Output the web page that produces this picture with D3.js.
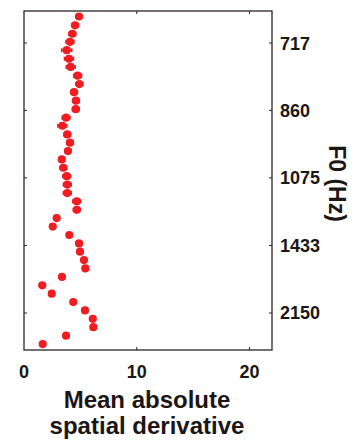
<!DOCTYPE html>
<html>
<head>
<meta charset="utf-8">
<script src="https://cdn.jsdelivr.net/npm/d3@7"></script>
<style>
  body { margin: 0; background: #fff; }
  text { font-family: "Liberation Sans", Arial, sans-serif; font-weight: bold; fill: #1c1616; }
</style>
</head>
<body>
<script>
// F0 of each point (Hz), top to bottom
const f0 = [673, 687, 701, 715, 730, 746, 762, 780, 798, 816,
  836, 857, 879, 901, 926, 951, 978, 1006, 1036, 1068,
  1102, 1139, 1177, 1219, 1263, 1311, 1363, 1419, 1479, 1545,
  1617, 1697, 1784, 1881, 1989, 2110, 2247, 2403, 2583, 2791];

// mean absolute spatial derivative
const meanDeriv = [4.88, 4.53, 4.29, 4.08, 3.79, 3.99, 4.14, 4.76, 4.91, 4.44,
  4.61, 4.59, 3.73, 3.40, 3.84, 4.08, 3.90, 3.35, 3.49, 3.79,
  3.84, 3.84, 4.68, 4.68, 2.90, 2.55, 4.02, 4.88, 4.97, 5.32,
  5.44, 3.37, 1.62, 2.46, 4.37, 5.41, 6.10, 6.15, 3.73, 1.66];

// error (s.e.m.)
const errDeriv = [0.25, 0.30, 0.30, 0.35, 0.45, 0.40, 0.40, 0.35, 0.30, 0.30,
  0.30, 0.30, 0.35, 0.40, 0.30, 0.30, 0.25, 0.25, 0.30, 0.35,
  0.35, 0.35, 0.35, 0.30, 0.15, 0.15, 0.15, 0.25, 0.25, 0.20,
  0.15, 0.10, 0.10, 0.10, 0.10, 0.20, 0.20, 0.15, 0.10, 0.10];

const xTicks = [0, 10, 20];
const yTicks = [717, 860, 1075, 1433, 2150];

const margin = { left: 24, right: 90, top: 11, bottom: 94 },
  W = 362, H = 444,
  width = W - margin.left - margin.right,
  height = H - margin.top - margin.bottom;

const red = "#f01c22", ink = "#2e2424";

// y is linear in period (1/F0), low F0 at top
const x = d3.scaleLinear().domain([0, 22]).range([0, width]);
const y = d3.scaleLinear().domain([1 / 2961, 1 / 664.5]).range([height, 0]);
const yf = f => y(1 / f);

const svg = d3.select("body").append("svg")
  .attr("width", W)
  .attr("height", H);

const g = svg.append("g")
  .attr("transform", `translate(${margin.left},${margin.top})`);

// frame
g.append("rect")
  .attr("width", width)
  .attr("height", height)
  .style("fill", "none")
  .style("stroke", ink)
  .style("stroke-width", 1.3);

// inward ticks on x (top and bottom)
g.selectAll(".xt")
  .data(xTicks.filter(d => d > 0))
  .enter()
  .append("path")
  .attr("d", d => `M${x(d)},${height} v-3 M${x(d)},0 v3`)
  .style("stroke", ink);

// inward ticks on y (left and right)
g.selectAll(".yt")
  .data(yTicks)
  .enter()
  .append("path")
  .attr("d", d => `M0,${yf(d)} h3 M${width},${yf(d)} h-3`)
  .style("stroke", ink);

// x tick labels
g.selectAll(".xl")
  .data(xTicks)
  .enter()
  .append("text")
  .attr("x", d => x(d))
  .attr("y", height + 28)
  .attr("text-anchor", "middle")
  .style("font-size", "18px")
  .text(d => d);

// y tick labels on the right
g.selectAll(".yl")
  .data(yTicks)
  .enter()
  .append("text")
  .attr("x", width + 8)
  .attr("y", d => yf(d) + 6.5)
  .style("font-size", "18px")
  .text(d => d);

// axis titles
const xt = g.append("text")
  .attr("text-anchor", "middle")
  .style("font-size", "24px");
xt.append("tspan").attr("x", x(11) - 1).attr("y", height + 58).text("Mean absolute");
xt.append("tspan").attr("x", x(11) - 1).attr("y", height + 84).text("spatial derivative");

g.append("text")
  .attr("transform", `translate(${width + 65},${height / 2 + 3}) rotate(90)`)
  .attr("text-anchor", "middle")
  .attr("dominant-baseline", "central")
  .style("font-size", "23px")
  .text("F0 (Hz)");

// error bars
const pts = f0.map((f, i) => ({ f, v: meanDeriv[i], e: errDeriv[i] }));

g.selectAll(".eb")
  .data(pts)
  .enter()
  .append("path")
  .attr("d", d => {
    const y0 = yf(d.f), x0 = x(d.v - d.e), x1 = x(d.v + d.e);
    return `M${x0},${y0} H${x1} M${x0},${y0 - 2} v4 M${x1},${y0 - 2} v4`;
  })
  .style("stroke", red)
  .style("stroke-width", 1.5)
  .style("fill", "none");

// points
g.selectAll(".pt")
  .data(pts)
  .enter()
  .append("circle")
  .attr("cx", d => x(d.v))
  .attr("cy", d => yf(d.f))
  .attr("r", 4.1)
  .style("fill", red);
</script>
</body>
</html>
